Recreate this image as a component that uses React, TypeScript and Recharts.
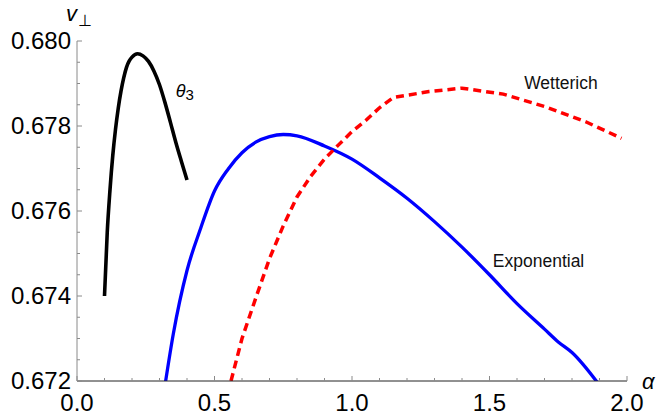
import { LineChart, Line, XAxis, YAxis, ReferenceDot } from 'recharts';

// theta_3 curve (black)
const thetaAlpha = [0.1, 0.11, 0.12, 0.13, 0.14, 0.15, 0.16, 0.17, 0.18, 0.19, 0.2, 0.22, 0.24, 0.26, 0.28, 0.3, 0.32, 0.34, 0.36, 0.38, 0.4];
const thetaV = [0.674, 0.6755, 0.6765, 0.6773, 0.67792, 0.67842, 0.67882, 0.67914, 0.67938, 0.67953, 0.67962, 0.6797, 0.67965, 0.67952, 0.67929, 0.67897, 0.67855, 0.67808, 0.6776, 0.67716, 0.67673];

// Exponential regulator (blue)
const expAlpha = [0.32, 0.35, 0.4, 0.45, 0.5, 0.55, 0.6, 0.65, 0.7, 0.75, 0.8, 0.9, 1.0, 1.1, 1.2, 1.3, 1.4, 1.5, 1.6, 1.7, 1.75, 1.8, 1.9];
const expV = [0.6719, 0.6731, 0.6746, 0.6756, 0.67647, 0.67699, 0.67737, 0.67762, 0.67775, 0.6778, 0.67777, 0.67753, 0.67722, 0.67678, 0.6763, 0.67575, 0.67515, 0.6745, 0.67382, 0.67322, 0.67292, 0.67267, 0.6719];

// Wetterich regulator (red, dashed)
const wetAlpha = [0.56, 0.6, 0.65, 0.7, 0.75, 0.8, 0.85, 0.9, 0.95, 1.0, 1.05, 1.1, 1.15, 1.28, 1.4, 1.55, 1.7, 1.85, 1.98];
const wetV = [0.672, 0.673, 0.67395, 0.67488, 0.67565, 0.67633, 0.67682, 0.67722, 0.67755, 0.67787, 0.67813, 0.67843, 0.67867, 0.67881, 0.67889, 0.67875, 0.67846, 0.6781, 0.67771];

const xMajor = [0, 0.5, 1, 1.5, 2];
const xMinor = [0.1, 0.2, 0.3, 0.4, 0.6, 0.7, 0.8, 0.9, 1.1, 1.2, 1.3, 1.4, 1.6, 1.7, 1.8, 1.9];
const yMajor = [0.672, 0.674, 0.676, 0.678, 0.68];
const yMinor = [0.6725, 0.673, 0.6735, 0.6745, 0.675, 0.6755, 0.6765, 0.677, 0.6775, 0.6785, 0.679, 0.6795];

// curve labels, anchored in data space (left edge / baseline)
const notes = [
  { text: 'Wetterich', a: 1.626, v: 0.67886 },
  { text: 'Exponential', a: 1.512, v: 0.67469 },
];

const FONT = '"Liberation Sans", Arial, sans-serif';
const TICK = '#8a8a8a';

const toPoints = (a: number[], v: number[]) => a.map((x, i) => ({ a: x, v: v[i] }));
const isMajor = (v: number, list: number[]) => list.some(m => Math.abs(m - v) < 1e-9);

function XTick({ x, y, payload }: any) {
  const major = isMajor(payload.value, xMajor);
  return (
    <g>
      <line x1={x} x2={x} y1={y} y2={y - (major ? 5 : 3)} stroke={TICK} />
      {major && <text x={x} y={y + 29.5} textAnchor="middle" fontSize={24} fontFamily={FONT} fill="#000">{payload.value.toFixed(1)}</text>}
    </g>
  );
}

function YTick({ x, y, payload }: any) {
  const major = isMajor(payload.value, yMajor);
  return (
    <g>
      <line x1={x} x2={x + (major ? 5 : 3)} y1={y} y2={y} stroke={TICK} />
      {major && <text x={x - 6} y={y + 8.3} textAnchor="end" fontSize={24} fontFamily={FONT} fill="#000">{payload.value.toFixed(3)}</text>}
    </g>
  );
}

export default function App() {
  return (
    <div style={{ position: 'absolute', left: 0, top: 0, width: 660, height: 415, background: '#fff' }}>
      <LineChart width={660} height={415} margin={{ top: 41, right: 33, bottom: 0, left: 0 }}>
        <XAxis dataKey="a" type="number" domain={[0, 2]} ticks={[...xMajor, ...xMinor].sort((p, q) => p - q)}
          interval={0} allowDataOverflow height={34} tickSize={0} tickMargin={0} tickLine={false}
          axisLine={{ stroke: '#222', strokeWidth: 1 }} tick={<XTick />} />
        <YAxis type="number" domain={[0.672, 0.68]} ticks={[...yMajor, ...yMinor].sort((p, q) => p - q)}
          interval={0} allowDataOverflow width={77} tickSize={0} tickMargin={0} tickLine={false}
          axisLine={{ stroke: TICK, strokeWidth: 1 }} tick={<YTick />} />
        <Line data={toPoints(thetaAlpha, thetaV)} dataKey="v" type="monotone" stroke="#000" strokeWidth={3.6}
          dot={false} activeDot={false} isAnimationActive={false} />
        <Line data={toPoints(expAlpha, expV)} dataKey="v" type="monotone" stroke="#0000ff" strokeWidth={3.3}
          dot={false} activeDot={false} isAnimationActive={false} />
        <Line data={toPoints(wetAlpha, wetV)} dataKey="v" type="linear" stroke="#ff0000" strokeWidth={3.5}
          strokeDasharray="8 5" dot={false} activeDot={false} isAnimationActive={false} />
        <ReferenceDot x={0.359} y={0.67869} r={1} shape={(p: any) => (
          <text x={p.cx} y={p.cy} fontFamily={FONT} fill="#000">
            <tspan fontSize={18} fontStyle="italic">θ</tspan>
            <tspan fontSize={15} dy={3}>3</tspan>
          </text>
        )} />
        {notes.map(n => (
          <ReferenceDot key={n.text} x={n.a} y={n.v} r={1} shape={(p: any) => (
            <text x={p.cx} y={p.cy} fontSize={17.5} fontFamily={FONT} fill="#111">{n.text}</text>
          )} />
        ))}
        <ReferenceDot x={0} y={0.68} r={1} shape={(p: any) => (
          <text x={p.cx - 11} y={p.cy - 20.5} fontFamily={FONT} fill="#000">
            <tspan fontSize={22} fontStyle="italic">v</tspan>
            <tspan fontSize={16} dx={1} dy={5.5}>⊥</tspan>
          </text>
        )} />
        <ReferenceDot x={2} y={0.672} r={1} shape={(p: any) => (
          <text x={p.cx + 15} y={p.cy + 7.5} fontSize={22} fontStyle="italic" fontFamily={FONT} fill="#000">α</text>
        )} />
      </LineChart>
    </div>
  );
}
